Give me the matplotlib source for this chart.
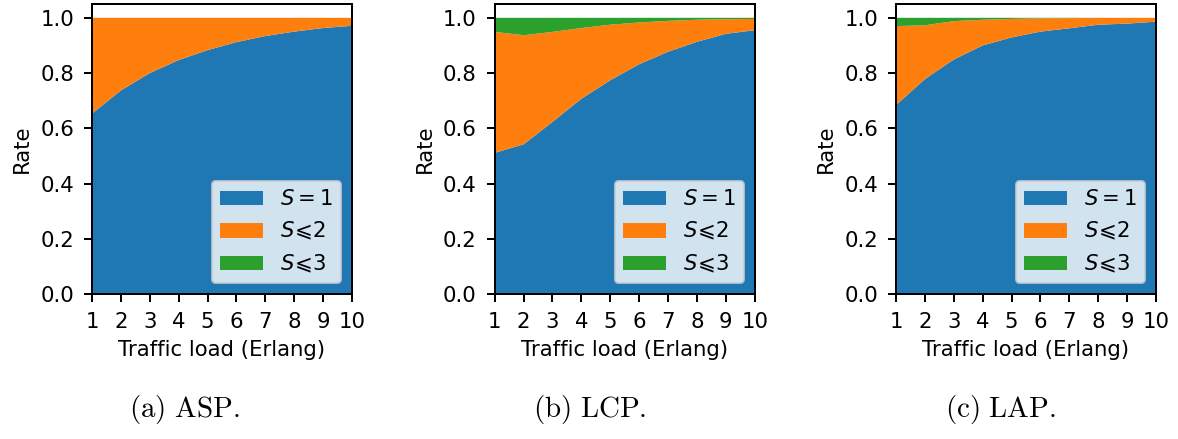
import numpy as np
import matplotlib
matplotlib.use("Agg")
import matplotlib.pyplot as plt

load = [1, 2, 3, 4, 5, 6, 7, 8, 9, 10]

# ASP
asp_s1 = [0.653, 0.737, 0.800, 0.847, 0.883, 0.912, 0.934, 0.950, 0.963, 0.971]
asp_s2 = [1.0, 1.0, 1.0, 1.0, 1.0, 1.0, 1.0, 1.0, 1.0, 1.0]
asp_s3 = [1.0, 1.0, 1.0, 1.0, 1.0, 1.0, 1.0, 1.0, 1.0, 1.0]

# LCP
lcp_s1 = [0.511, 0.542, 0.623, 0.707, 0.774, 0.832, 0.877, 0.913, 0.942, 0.955]
lcp_s2 = [0.949, 0.937, 0.949, 0.963, 0.975, 0.983, 0.989, 0.993, 0.995, 0.996]
lcp_s3 = [1.0, 1.0, 1.0, 1.0, 1.0, 1.0, 1.0, 1.0, 1.0, 1.0]

# LAP
lap_s1 = [0.684, 0.778, 0.849, 0.900, 0.929, 0.950, 0.962, 0.975, 0.979, 0.986]
lap_s2 = [0.970, 0.973, 0.988, 0.993, 0.996, 0.998, 0.999, 1.0, 1.0, 1.0]
lap_s3 = [1.0, 1.0, 1.0, 1.0, 1.0, 1.0, 1.0, 1.0, 1.0, 1.0]

labels = ['$S = 1$', r'$S\!\leqslant\!2$', r'$S\!\leqslant\!3$']
captions = [r'$\mathrm{(a)\ ASP.}$', r'$\mathrm{(b)\ LCP.}$', r'$\mathrm{(c)\ LAP.}$']
cap_x = [184, 590, 1000]

plt.rcParams['font.size'] = 10.6
plt.rcParams['axes.linewidth'] = 1.0
for a in ('xtick', 'ytick'):
    plt.rcParams[a + '.major.size'] = 4.2
    plt.rcParams[a + '.major.width'] = 1.0
    plt.rcParams[a + '.major.pad'] = 4.8

panels = [(asp_s1, asp_s2, asp_s3), (lcp_s1, lcp_s2, lcp_s3), (lap_s1, lap_s2, lap_s3)]
lefts = [92, 494.7, 896]

W, H = 1178, 439
fig = plt.figure(figsize=(W / 144, H / 144), dpi=144)

for i, (s1, s2, s3) in enumerate(panels):
    ax = fig.add_axes([lefts[i] / W, (H - 294) / H, 260 / W, 290 / H])
    # cumulative rates -> layer thicknesses
    l1 = np.array(s1)
    l2 = np.array(s2) - np.array(s1)
    l3 = np.array(s3) - np.array(s2)
    ax.stackplot(load, l1, l2, l3, labels=labels)
    ax.set_xlim(1, 10)
    ax.set_ylim(0, 1.05)
    ax.set_xticks(load)
    ax.set_yticks([0.0, 0.2, 0.4, 0.6, 0.8, 1.0])
    ax.set_xlabel('Traffic load (Erlang)')
    ax.set_ylabel('Rate')
    ax.legend(loc='lower right')
    fig.text(cap_x[i] / W, 1 - 410 / H, captions[i], ha='center', va='center',
             fontsize=14.5, math_fontfamily='cm')

fig.savefig('out.png', dpi=144)
